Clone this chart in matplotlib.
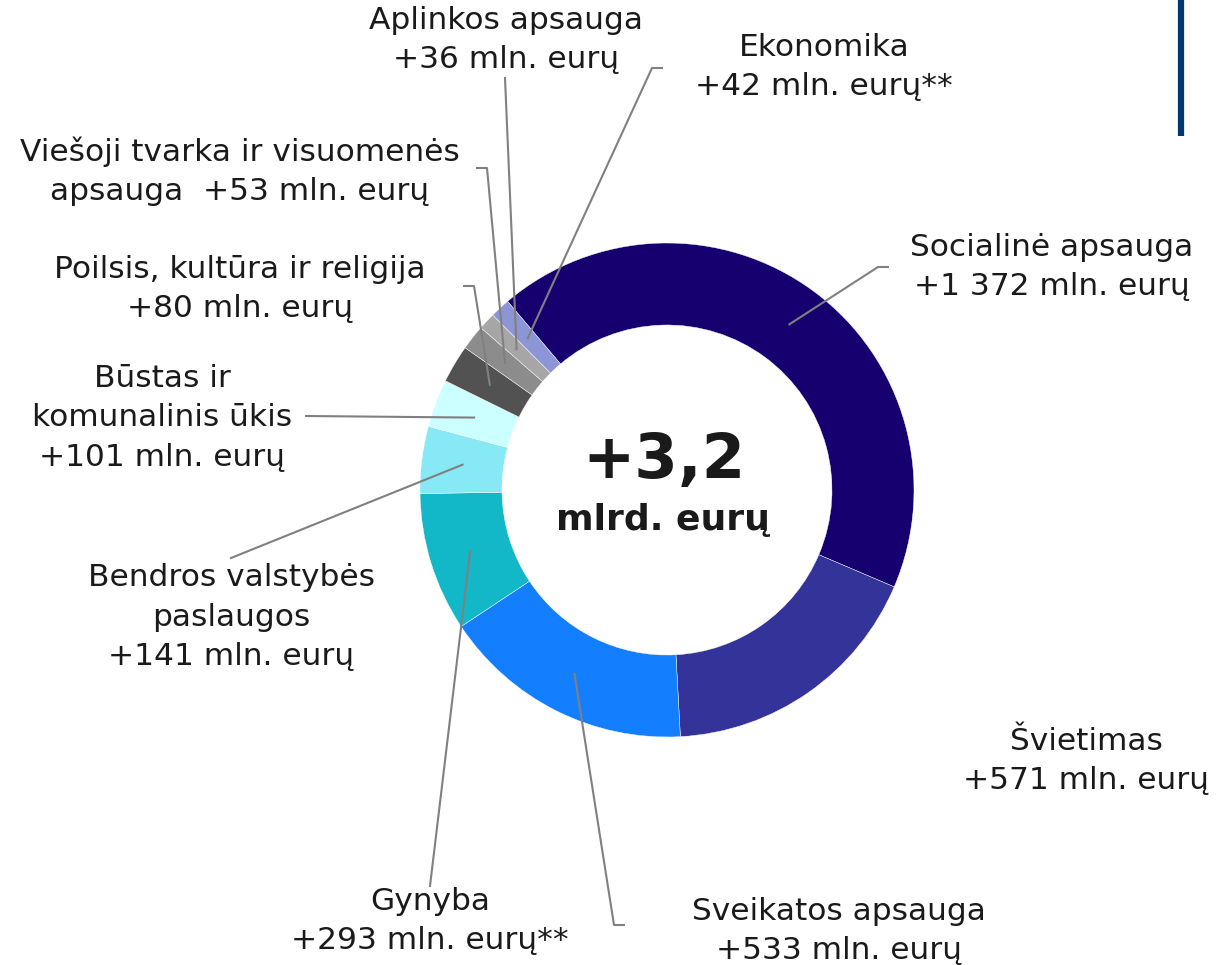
import numpy as np
import matplotlib
matplotlib.use("Agg")
import matplotlib.pyplot as plt

# Data (mln. eurų), clockwise from the top-left start of the ring
names = ["Socialinė apsauga", "Švietimas", "Sveikatos apsauga", "Gynyba",
         "Bendros valstybės\npaslaugos", "Būstas ir\nkomunalinis ūkis",
         "Poilsis, kultūra ir religija", "Viešoji tvarka ir visuomenės\napsauga",
         "Aplinkos apsauga", "Ekonomika"]
values = [1372, 571, 533, 293, 141, 101, 80, 53, 36, 42]
notes = ["", "", "", "**", "", "", "", "", "", "**"]
seps = ["\n", "\n", "\n", "\n", "\n", "\n", "\n", "  ", "\n", "\n"]
total_text = "+3,2"
total_unit = "mlrd. eurų"

colors = ["#160070", "#333399", "#137FFF", "#13B8C8", "#87E9F5", "#CCFFFF",
          "#525252", "#8C8C8C", "#A6A6A6", "#8C96D6"]

W, H = 1218, 965
CX, CY = 667, 490

# label centre (px from top-left) and leader-line bend points
label_pos = [(1052, 267), (1086, 761), (839, 931), (430, 921), (231, 617),
             (162, 418), (240, 289), (240, 171), (506, 40), (824, 67)]
leaders = [[(878, 267), (888, 267)], None, [(614, 925), (624, 925)],
           [(430, 886)], [(231, 558)], [(306, 416)],
           [(474, 286), (464, 286)], [(487, 168), (477, 168)],
           [(505, 78)], [(652, 68), (662, 68)]]

fig = plt.figure(figsize=(W / 100, H / 100), dpi=100)
ax = fig.add_axes([0, 0, 1, 1])

wedges, _ = ax.pie(values, colors=colors, startangle=130.2, counterclock=False,
                   radius=247, center=(CX, H - CY),
                   wedgeprops=dict(width=82, edgecolor="white", linewidth=0.3))

ax.set_xlim(0, W)
ax.set_ylim(0, H)
ax.axis("off")

txt_color = "#1A1A1A"
for i, w in enumerate(wedges):
    lx, ly = label_pos[i]
    amount = f"{values[i]:,}".replace(",", " ")
    label = f"{names[i]}{seps[i]}+{amount} mln. eurų{notes[i]}"
    ax.text(lx, H - ly, label, ha="center", va="center", multialignment="center",
            fontsize=22.5, color=txt_color, linespacing=1.44)
    if leaders[i] is None:
        continue
    mid = np.deg2rad((w.theta1 + w.theta2) / 2)
    r = 206
    xs = [CX + r * np.cos(mid)] + [p[0] for p in leaders[i]]
    ys = [H - CY + r * np.sin(mid)] + [H - p[1] for p in leaders[i]]
    ax.plot(xs, ys, color="#808080", lw=1.5, zorder=3)

ax.text(CX - 3, H - 461, total_text, ha="center", va="center",
        fontsize=45, fontweight="bold", color=txt_color)
ax.text(CX - 4, H - 520, total_unit, ha="center", va="center",
        fontsize=26, fontweight="bold", color=txt_color)

# blue accent bar in top-right corner
ax.plot([1181, 1181], [H, H - 136], color="#00376F", lw=4.5, solid_capstyle="butt")

fig.savefig("out.png", dpi=100)
